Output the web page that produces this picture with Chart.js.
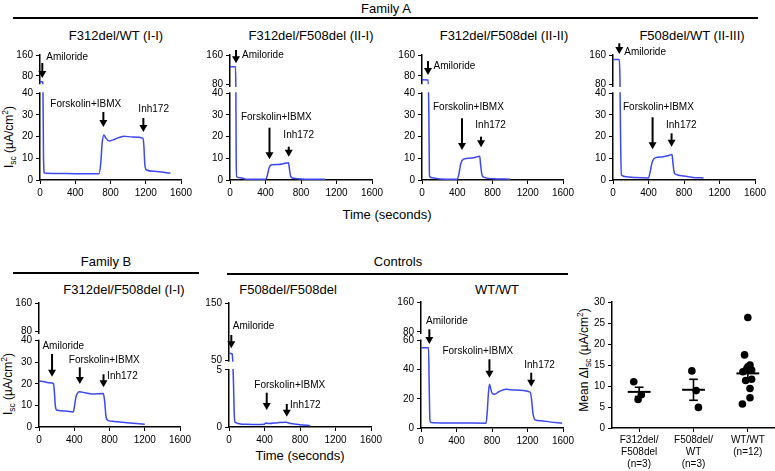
<!DOCTYPE html>
<html>
<head>
<meta charset="utf-8">
<script src="https://cdn.jsdelivr.net/npm/chart.js@4.4.0/dist/chart.umd.min.js"></script>
<style>
  body { margin: 0; background: #fff; font-family: "Liberation Sans", Arial, sans-serif; color: #000; }
  #fig { position: relative; width: 775px; height: 471px; overflow: hidden; background: #fff; }
  #fig canvas { position: absolute; }
  .t { position: absolute; white-space: nowrap; line-height: 1; font-size: 13px; transform: translate(-50%, -50%); }
  .hl { position: absolute; height: 2px; background: #000; }
  .yl { position: absolute; white-space: nowrap; line-height: 1; font-size: 12px; transform: translate(-50%, -50%) rotate(-90deg); }
  .yl sub, .yl sup { font-size: 0.7em; line-height: 0; }
</style>
</head>
<body>
<div id="fig">
  <div class="t" style="left:386px;top:8px">Family A</div>
  <div class="hl" style="left:13px;top:17px;width:745px"></div>
  <div class="t" style="left:116px;top:35px">F312del/WT (I-I)</div>
  <div class="t" style="left:311px;top:35px">F312del/F508del (II-I)</div>
  <div class="t" style="left:504px;top:35px">F312del/F508del (II-II)</div>
  <div class="t" style="left:692px;top:35px">F508del/WT (II-III)</div>
  <div class="t" style="left:387px;top:214px">Time (seconds)</div>

  <div class="t" style="left:106px;top:261px">Family B</div>
  <div class="hl" style="left:13px;top:272px;width:186px"></div>
  <div class="t" style="left:398px;top:261px">Controls</div>
  <div class="hl" style="left:227px;top:273px;width:341px"></div>
  <div class="t" style="left:124px;top:289px">F312del/F508del (I-I)</div>
  <div class="t" style="left:288px;top:289px">F508del/F508del</div>
  <div class="t" style="left:497px;top:289px">WT/WT</div>
  <div class="t" style="left:300px;top:455px">Time (seconds)</div>

  <div class="yl" style="left:9px;top:137px">I<sub>sc</sub> (µA/cm<sup>2</sup>)</div>
  <div class="yl" style="left:8px;top:384px">I<sub>sc</sub> (µA/cm<sup>2</sup>)</div>
  <div class="yl" style="left:584px;top:360px">Mean ΔI<sub>sc</sub> (µA/cm<sup>2</sup>)</div>
</div>
<script>
// ---- data ----
const eventLabels = ['Amiloride', 'Forskolin+IBMX', 'Inh172'];

// Family A, F312del/WT (I-I)
const p1Time = [0, 28, 34, 40, 50, 200, 400, 670, 690, 705, 725, 745, 785, 850, 950, 1050, 1170, 1180, 1190, 1210, 1300, 1480];
const p1Isc = [58, 58, 40, 10, 3.2, 3.0, 2.9, 2.9, 8, 17, 20.8, 19.5, 18.0, 18.8, 20.2, 19.8, 19.2, 15, 7, 4.6, 4.0, 3.2];
const p1Events = [26, 719, 1173];

// Family A, F312del/F508del (II-I)
const p2Time = [0, 62, 66, 70, 75, 120, 180, 300, 400, 420, 440, 470, 550, 600, 660, 670, 685, 720, 800, 1070];
const p2Isc = [128, 128, 60, 10, 1.5, 1.0, 0.4, 0.3, 0.3, 2, 5.5, 7.0, 7.1, 7.5, 8.0, 5, 1.5, 0.8, 0.5, 0.3];
const p2Events = [68, 445, 662];

// Family A, F312del/F508del (II-II)
const p3Time = [0, 70, 78, 85, 120, 200, 400, 420, 440, 470, 520, 600, 655, 665, 680, 700, 800, 1000];
const p3Isc = [65, 64, 30, 1.6, 1.0, 0.5, 0.4, 3, 7.5, 9.6, 10.0, 10.4, 11.0, 7, 2.5, 1.3, 0.6, 0.4];
const p3Events = [68, 454, 670];

// Family A, F508del/WT (II-III)
const p4Time = [0, 70, 78, 85, 95, 150, 250, 400, 415, 440, 475, 550, 620, 665, 675, 690, 710, 800, 900, 1020];
const p4Isc = [148, 148, 100, 20, 2.3, 1.5, 1.1, 0.9, 3, 8, 10.2, 10.6, 11.2, 11.8, 8, 3.5, 2.6, 1.8, 1.2, 0.9];
const p4Events = [71, 446, 660];

// Family B, F312del/F508del (I-I)
const p5Time = [0, 60, 120, 165, 175, 185, 200, 300, 390, 400, 420, 440, 460, 520, 600, 730, 745, 760, 780, 850, 1000, 1200];
const p5Isc = [21.3, 21, 20.5, 20, 16, 10, 7.9, 7.4, 7.0, 9, 14, 15.8, 16.3, 15.9, 15.3, 15.5, 12, 5, 3.1, 2.6, 2.0, 1.3];
const p5Events = [148, 463, 732];

// Controls, F508del/F508del
const p6Time = [0, 35, 40, 50, 60, 70, 150, 300, 400, 415, 450, 550, 640, 700, 800, 915];
const p6Isc = [63, 62, 55, 4, 1.0, 0.4, 0.25, 0.22, 0.25, 0.35, 0.3, 0.38, 0.42, 0.3, 0.2, 0.12];
const p6Events = [26, 425, 651];

// Controls, WT/WT
const p7Time = [0, 85, 92, 100, 110, 300, 500, 733, 745, 760, 772, 785, 805, 830, 880, 960, 1050, 1230, 1245, 1262, 1285, 1350, 1450, 1590];
const p7Isc = [55, 55, 30, 6, 3.8, 3.5, 3.4, 3.3, 10, 24, 30, 27, 23.5, 23.2, 25, 26.5, 26, 24.6, 20, 10, 5.6, 5.0, 4.2, 3.3];
const p7Events = [94, 771, 1242];

// Mean delta Isc scatter
const groupLabels = [['F312del/', 'F508del', '(n=3)'], ['F508del/', 'WT', '(n=3)'], ['WT/WT', '(n=12)']];
const g1Values = [11.0, 7.9, 6.8];
const g2Values = [13.6, 8.9, 4.9];
const g3Values = [26.3, 17.4, 15.0, 14.6, 14.0, 13.8, 13.4, 11.6, 11.3, 9.4, 7.2, 5.7];
const groupMeans = [8.6, 9.1, 13.0];
const groupSem = [1.1, 2.5, 1.5];

// horizontal scatter of the dots (layout only)
const g1Jitter = [-0.1, 0.04, -0.02];
const g2Jitter = [-0.03, 0.05, 0.09];
const g3Jitter = [0, -0.06, 0.04, 0.0, -0.02, 0.07, -0.09, 0.07, -0.04, 0.04, 0.04, -0.1];

// ---- chart setup ----
Chart.defaults.font.family = '"Liberation Sans", Arial, sans-serif';
Chart.defaults.font.size = 10;
Chart.defaults.color = '#000';

// y scale with an axis break: piecewise linear mapping value -> fraction of height
class BrokenScale extends Chart.LinearScale {
  buildTicks() {
    return this.options.tickValues.map(v => ({ value: v }));
  }
  getPixelForValue(value) {
    const s = this.options.stops;
    let i = 0;
    while (i < s.length - 2 && value > s[i + 1][0]) i++;
    const [v0, f0] = s[i], [v1, f1] = s[i + 1];
    return this.getPixelForDecimal(f0 + (value - v0) / (v1 - v0) * (f1 - f0));
  }
}
BrokenScale.id = 'broken';
BrokenScale.defaults = {};
Chart.register(BrokenScale);

const fig = document.getElementById('fig');
const lineBlue = '#3c48f4';

function place(rect, L, T, R, B) {
  const c = document.createElement('canvas');
  const w = rect[2] - rect[0] + L + R, h = rect[3] - rect[1] + T + B;
  c.width = w; c.height = h;
  c.style.left = (rect[0] - L) + 'px';
  c.style.top = (rect[1] - T) + 'px';
  fig.appendChild(c);
  return c;
}

const axisGrid = { drawOnChartArea: false, drawTicks: true, tickLength: 4, color: '#000', lineWidth: 1 };
const axisBorder = { display: true, color: '#000', width: 1.5 };

const panels = [
  { time: p1Time, isc: p1Isc, events: p1Events, rect: [40, 55, 181, 180], ticks: [0, 10, 20, 30, 40, 80, 160], max: 160,
    stops: [[0, 0], [40, 0.694], [52, 0.774], [160, 1]],
    notes: [[63, 78, 4, 57.5], [112, 127, -53, 104], [118, 132, -5, 109]] },
  { time: p2Time, isc: p2Isc, events: p2Events, rect: [230, 55, 372, 180], ticks: [0, 10, 20, 30, 40, 80, 160], max: 160,
    stops: [[0, 0], [40, 0.694], [75, 0.752], [160, 1]],
    notes: [[50, 63.3, 6, 55], [127.7, 159.3, -28.6, 117.3], [146.7, 156.7, -5.4, 135]] },
  { time: p3Time, isc: p3Isc, events: p3Events, rect: [422, 55, 563, 180], ticks: [0, 10, 20, 30, 40, 80, 160], max: 160,
    stops: [[0, 0], [40, 0.694], [52, 0.774], [160, 1]],
    notes: [[61, 75, 5.6, 66.7], [118.3, 150, -29, 107.3], [136.7, 147.3, -5.7, 125]] },
  { time: p4Time, isc: p4Isc, events: p4Events, rect: [613, 55, 755, 180], ticks: [0, 10, 20, 30, 40, 80, 160], max: 160,
    stops: [[0, 0], [40, 0.694], [75, 0.752], [160, 1]],
    notes: [[43.3, 54, 5, 52.3], [117.3, 149.3, -29.6, 107.3], [133.3, 146.7, -5.6, 125]] },
  { time: p5Time, isc: p5Isc, events: p5Events, rect: [39, 303, 180, 427], ticks: [0, 10, 20, 30, 40, 80, 160], max: 160,
    stops: [[0, 0], [40, 0.696], [76, 0.758], [160, 1]],
    notes: [[354, 376.7, -9.6, 346.7], [367.3, 384, -11, 360], [374.3, 387.3, 3.6, 376]] },
  { time: p6Time, isc: p6Isc, events: p6Events, rect: [229, 303, 371, 427], ticks: [0, 5, 50, 150], max: 150,
    stops: [[0, 0], [5, 0.46], [50, 0.535], [150, 1]],
    notes: [[335, 348.3, 1.4, 326], [392.7, 410, -12.4, 385], [404, 416.7, 3.3, 405.7]] },
  { time: p7Time, isc: p7Isc, events: p7Events, rect: [421, 302, 563, 428], ticks: [0, 20, 40, 60, 80, 160], max: 160,
    stops: [[0, 0], [60, 0.695], [77, 0.754], [160, 1]],
    notes: [[329.3, 344, -3.3, 321], [359.3, 377.7, -47, 351.7], [372.7, 386.7, -7, 365.3]] }
];

// white band over the break + drug addition arrows
function breakAndArrows(p, T) {
  return {
    id: 'breakAndArrows',
    afterDatasetsDraw(chart) {
      const ctx = chart.ctx, a = chart.chartArea, ys = chart.scales.y, xs = chart.scales.x;
      const s = p.stops;
      const gTop = ys.getPixelForDecimal(s[2][1]), gBot = ys.getPixelForDecimal(s[1][1]);
      ctx.save();
      ctx.fillStyle = '#fff';
      ctx.fillRect(a.left - 3, gTop + 1, a.right - a.left + 6, gBot - gTop - 2);
      const oy = p.rect[1] - T;
      ctx.fillStyle = '#000';
      ctx.strokeStyle = '#000';
      ctx.lineWidth = 2;
      ctx.font = '10px "Liberation Sans", Arial, sans-serif';
      ctx.textBaseline = 'middle';
      ctx.textAlign = 'left';
      p.events.forEach((t, i) => {
        const [top, tip, dx, ty] = p.notes[i];
        const px = xs.getPixelForValue(t);
        ctx.beginPath();
        ctx.moveTo(px, top - oy);
        ctx.lineTo(px, tip - oy - 6);
        ctx.stroke();
        ctx.beginPath();
        ctx.moveTo(px - 4, tip - oy - 7);
        ctx.lineTo(px + 4, tip - oy - 7);
        ctx.lineTo(px, tip - oy);
        ctx.closePath();
        ctx.fill();
        ctx.fillText(eventLabels[i], px + dx, ty - oy);
      });
      ctx.restore();
    }
  };
}

panels.forEach(p => {
  const L = 36, T = 20, R = 16, B = 22;
  const canvas = place(p.rect, L, T, R, B);
  new Chart(canvas, {
    type: 'line',
    data: {
      datasets: [{
        data: p.time.map((t, i) => ({ x: t, y: p.isc[i] })),
        borderColor: lineBlue,
        borderWidth: 1.5,
        pointRadius: 0,
        cubicInterpolationMode: 'monotone',
        fill: false
      }]
    },
    options: {
      responsive: false,
      animation: false,
      events: [],
      layout: { padding: { left: 0, top: T, right: R, bottom: 0 } },
      plugins: { legend: { display: false }, tooltip: { enabled: false } },
      scales: {
        x: {
          type: 'linear', min: 0, max: 1600,
          ticks: { stepSize: 400, padding: 3, maxRotation: 0, callback: v => String(v) },
          grid: axisGrid, border: axisBorder,
          afterFit: s => { s.height = B; }
        },
        y: {
          type: 'broken', min: 0, max: p.max,
          tickValues: p.ticks, stops: p.stops,
          ticks: { padding: 3, callback: v => String(v) },
          grid: axisGrid, border: axisBorder,
          afterFit: s => { s.width = L; }
        }
      }
    },
    plugins: [breakAndArrows(p, T)]
  });
});

// ---- mean delta Isc scatter ----
(function () {
  const rect = [612, 302, 775, 428];
  const L = 36, T = 12, R = 20, B = 46;
  const canvas = place(rect, L, T, R, B);
  const groups = [[g1Values, g1Jitter], [g2Values, g2Jitter], [g3Values, g3Jitter]];
  const datasets = [];
  groups.forEach(([vals, jit], g) => {
    datasets.push({
      type: 'scatter',
      data: vals.map((v, i) => ({ x: g + 1 + jit[i], y: v })),
      pointRadius: 3.8, pointBackgroundColor: '#000', pointBorderColor: '#000', borderWidth: 0
    });
  });
  const seg = (x0, y0, x1, y1, w) => ({
    type: 'scatter', showLine: true, borderColor: '#000', borderWidth: w, pointRadius: 0,
    data: [{ x: x0, y: y0 }, { x: x1, y: y1 }]
  });
  groupMeans.forEach((m, g) => {
    const c = g + 1, e = groupSem[g];
    datasets.push(seg(c - 0.21, m, c + 0.21, m, 2));
    datasets.push(seg(c, m - e, c, m + e, 1.6));
    datasets.push(seg(c - 0.08, m + e, c + 0.08, m + e, 1.6));
    datasets.push(seg(c - 0.08, m - e, c + 0.08, m - e, 1.6));
  });
  new Chart(canvas, {
    type: 'scatter',
    data: { datasets },
    options: {
      responsive: false,
      animation: false,
      events: [],
      layout: { padding: { left: 0, top: T, right: R, bottom: 0 } },
      plugins: { legend: { display: false }, tooltip: { enabled: false } },
      scales: {
        x: {
          type: 'linear', min: 0.5, max: 3.5,
          afterBuildTicks: s => { s.ticks = [1, 2, 3].map(v => ({ value: v })); },
          ticks: { padding: 2, maxRotation: 0, font: { size: 10, lineHeight: 1.2 }, callback: v => groupLabels[v - 1] },
          grid: axisGrid, border: axisBorder,
          afterFit: s => { s.height = B; }
        },
        y: {
          type: 'linear', min: 0, max: 30,
          ticks: { stepSize: 5, padding: 3 },
          grid: axisGrid, border: axisBorder,
          afterFit: s => { s.width = L; }
        }
      }
    }
  });
})();
</script>
</body>
</html>
